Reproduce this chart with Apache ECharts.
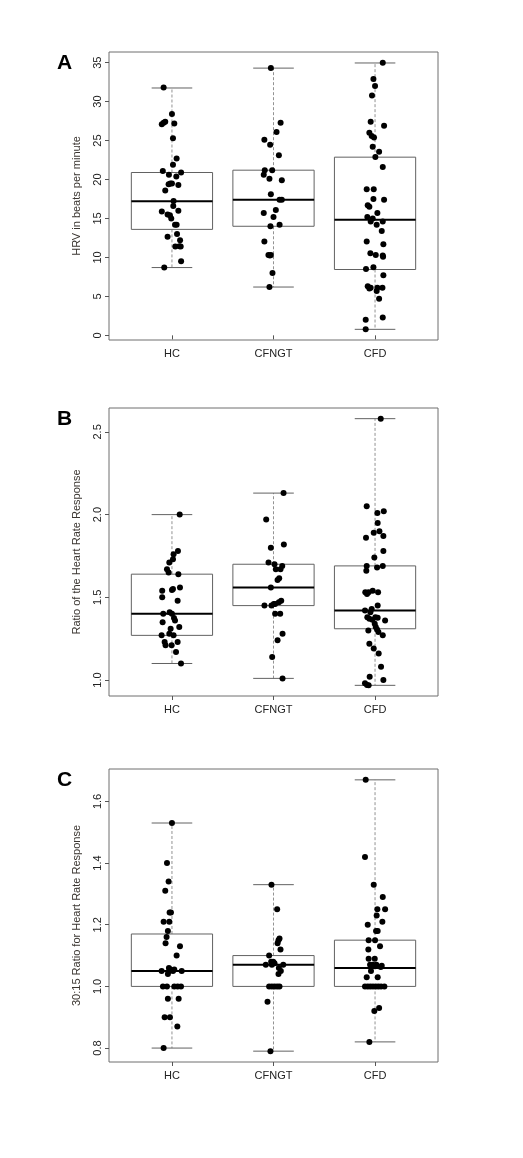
<!DOCTYPE html>
<html>
<head>
<meta charset="utf-8">
<script src="https://cdn.jsdelivr.net/npm/echarts@6/dist/echarts.min.js"></script>
<style>
  html, body { margin: 0; padding: 0; background: #fff; }
  #main { width: 523px; height: 1158px; }
</style>
</head>
<body>
<div id="main"></div>
<script>
// groups on the x axis
var groups = ['HC', 'CFNGT', 'CFD'];

// points: [jitter, value]
// A - HRV in beats per minute
var hrvHC = [[-0.082,31.8],[0,28.4],[-0.1,27.1],[-0.082,27.3],[-0.066,27.4],[0.023,27.2],[0.01,25.3],[0.046,22.7],[0.01,21.9],[-0.09,21.1],[0.09,20.9],[-0.03,20.6],[0.043,20.4],[-0.033,19.4],[-0.016,19.5],[0,19.5],[0.063,19.3],[-0.066,18.6],[0.016,17.25],[0.013,16.6],[0.063,16.0],[-0.1,15.9],[-0.043,15.5],[-0.02,15.4],[-0.007,15.0],[0.03,14.2],[0.046,14.2],[-0.043,12.65],[0.05,13.0],[0.08,12.2],[0.033,11.4],[0.073,11.45],[0.086,11.4],[0.09,9.5],[-0.076,8.7]];
var hrvCFNGT = [[-0.026,34.3],[0.07,27.3],[0.03,26.1],[-0.09,25.1],[-0.033,24.45],[0.053,23.1],[-0.086,21.2],[-0.013,21.2],[-0.096,20.6],[-0.04,20.1],[0.082,19.9],[-0.026,18.1],[0.06,17.4],[0.082,17.4],[0.023,16.1],[-0.096,15.7],[0,15.2],[0.06,14.2],[-0.03,14.0],[-0.09,12.05],[-0.05,10.3],[-0.036,10.25],[-0.026,10.3],[-0.01,8.0],[-0.04,6.2]];
var hrvCFD = [[0.076,35.0],[-0.016,32.9],[0,32.0],[-0.03,30.8],[-0.043,27.4],[0.089,26.9],[-0.056,26.0],[-0.033,25.6],[-0.01,25.4],[-0.023,24.2],[0.04,23.55],[0.003,22.9],[0.076,21.6],[-0.082,18.75],[-0.013,18.75],[-0.016,17.5],[0.089,17.4],[-0.072,16.7],[-0.056,16.5],[0.023,15.7],[-0.076,15.2],[-0.023,15.0],[-0.043,14.6],[0.076,14.6],[0.016,14.2],[0.066,13.4],[-0.082,12.05],[0.082,11.7],[-0.046,10.55],[0.007,10.3],[0.076,10.25],[0.079,10.1],[-0.089,8.5],[-0.016,8.75],[0.082,7.7],[-0.072,6.3],[-0.056,6.0],[-0.043,6.1],[0.023,6.1],[0.016,5.7],[0.073,6.1],[0.04,4.7],[0.076,2.3],[-0.092,2.0],[-0.092,0.77]];

// B - ratio of the heart rate response
var ratioHC = [[0.076,2.00],[0.059,1.78],[0.016,1.76],[0.01,1.73],[-0.026,1.71],[-0.049,1.67],[-0.033,1.65],[0.063,1.64],[0.079,1.56],[-0.096,1.54],[0,1.545],[0.01,1.55],[-0.096,1.50],[0.056,1.48],[-0.086,1.40],[-0.023,1.41],[0,1.40],[0.03,1.36],[0.02,1.375],[-0.092,1.35],[0.072,1.32],[-0.013,1.31],[-0.102,1.27],[-0.026,1.28],[0.016,1.27],[-0.072,1.23],[-0.063,1.21],[0.056,1.23],[-0.003,1.21],[0.04,1.17],[0.089,1.10]];
var ratioCFNGT = [[0.099,2.13],[-0.072,1.97],[0.102,1.82],[-0.026,1.80],[-0.049,1.71],[0.01,1.70],[0.086,1.69],[0.069,1.67],[0.023,1.67],[0.056,1.615],[0.04,1.605],[-0.026,1.56],[0.076,1.48],[0.053,1.47],[-0.089,1.45],[-0.02,1.45],[0.003,1.46],[0.016,1.46],[0.016,1.40],[0.066,1.40],[0.089,1.28],[0.04,1.24],[-0.013,1.14],[0.089,1.01]];
var ratioCFD = [[0.056,2.58],[-0.082,2.05],[0.023,2.01],[0.086,2.02],[0.026,1.95],[0.043,1.90],[-0.013,1.89],[-0.089,1.86],[0.082,1.87],[0.082,1.78],[-0.007,1.74],[-0.082,1.69],[0.02,1.68],[0.076,1.69],[-0.086,1.66],[-0.096,1.53],[-0.079,1.52],[-0.063,1.53],[-0.023,1.54],[0.03,1.53],[0.026,1.45],[-0.099,1.42],[-0.033,1.43],[-0.046,1.41],[-0.076,1.38],[-0.056,1.37],[-0.026,1.365],[0.003,1.38],[0.026,1.377],[0.099,1.36],[-0.066,1.30],[-0.003,1.34],[0.007,1.32],[0.02,1.305],[0.033,1.29],[0.076,1.27],[-0.056,1.22],[-0.013,1.19],[0.036,1.16],[0.059,1.08],[-0.053,1.02],[0.082,1.00],[-0.099,0.98],[-0.079,0.97],[-0.063,0.968]];

// C - 30:15 ratio
var r3015HC = [[0,1.53],[-0.049,1.40],[-0.033,1.34],[-0.066,1.31],[-0.023,1.24],[-0.01,1.24],[-0.082,1.21],[-0.026,1.21],[-0.04,1.18],[-0.053,1.16],[-0.063,1.14],[0.079,1.13],[0.046,1.10],[-0.03,1.06],[-0.026,1.05],[-0.016,1.055],[0.01,1.05],[0.023,1.055],[-0.04,1.04],[-0.102,1.05],[0.096,1.05],[-0.089,1.00],[-0.049,1.00],[0.023,1.00],[0.056,1.00],[0.089,1.00],[-0.04,0.96],[0.066,0.96],[-0.072,0.90],[-0.02,0.90],[0.053,0.87],[-0.082,0.80]];
var r3015CFNGT = [[-0.02,1.33],[0.036,1.25],[0.049,1.15],[0.059,1.155],[0.04,1.14],[0.069,1.12],[-0.043,1.10],[-0.023,1.08],[-0.003,1.08],[-0.076,1.07],[-0.016,1.07],[0.01,1.075],[0.096,1.07],[0.053,1.06],[0.072,1.05],[0.049,1.04],[-0.043,1.00],[-0.016,1.00],[0.01,1.00],[0.036,1.00],[0.059,1.00],[-0.059,0.95],[-0.03,0.79]];
var r3015CFD = [[-0.092,1.67],[-0.099,1.42],[-0.013,1.33],[0.076,1.29],[0.023,1.25],[0.099,1.25],[0.016,1.23],[0.072,1.21],[-0.072,1.20],[0.01,1.18],[0.026,1.18],[-0.063,1.15],[0,1.15],[0.049,1.13],[-0.066,1.12],[-0.063,1.09],[-0.003,1.09],[-0.049,1.07],[-0.023,1.07],[0,1.065],[0.013,1.07],[-0.04,1.05],[0.066,1.067],[0.056,1.063],[-0.082,1.03],[0.026,1.03],[-0.099,1.00],[-0.072,1.00],[-0.046,1.00],[-0.02,1.00],[0.007,1.00],[0.033,1.00],[0.059,1.00],[0.092,1.00],[0.04,0.93],[-0.007,0.92],[-0.056,0.82]];

// box stats: [lower whisker, Q1, median, Q3, upper whisker]
var boxA = [[8.7,13.6,17.2,20.9,31.75],[6.2,14.0,17.4,21.2,34.3],[0.77,8.45,14.84,22.87,34.96]];
var boxB = [[1.10,1.27,1.40,1.64,2.00],[1.01,1.45,1.56,1.70,2.13],[0.968,1.31,1.42,1.69,2.58]];
var boxC = [[0.80,1.00,1.05,1.17,1.53],[0.79,1.00,1.07,1.10,1.33],[0.82,1.00,1.06,1.15,1.67]];

// tick labels
var ticksA = [0, 5, 10, 15, 20, 25, 30, 35];
var ticksB = [1.0, 1.5, 2.0, 2.5];
var ticksC = [0.8, 1.0, 1.2, 1.4, 1.6];

var panels = [
  { letter: 'A', name: 'HRV in beats per minute', pts: [hrvHC, hrvCFNGT, hrvCFD], box: boxA, ticks: ticksA, dec: 0, top: 52, height: 288 },
  { letter: 'B', name: 'Ratio of the Heart Rate Response', pts: [ratioHC, ratioCFNGT, ratioCFD], box: boxB, ticks: ticksB, dec: 1, top: 408, height: 288 },
  { letter: 'C', name: '30:15 Ratio for Heart Rate Response', pts: [r3015HC, r3015CFNGT, r3015CFD], box: boxC, ticks: ticksC, dec: 1, top: 769, height: 293 }
];

var font = 'Liberation Sans, Arial, sans-serif';
var grids = [], xAxes = [], yAxes = [], series = [], graphics = [];

function renderBox(params, api) {
  var x = api.value(0);
  var lo = api.value(1), q1 = api.value(2), md = api.value(3), q3 = api.value(4), hi = api.value(5);
  var c = function (a, b) { return api.coord([a, b]); };
  var tl = c(x - 0.4, q3), br = c(x + 0.4, q1);
  var line = { stroke: '#626262', lineWidth: 1 };
  var dash = { stroke: '#777', lineWidth: 0.8, lineDash: [3, 2] };
  var seg = function (p1, p2, st) {
    return { type: 'line', shape: { x1: p1[0], y1: p1[1], x2: p2[0], y2: p2[1] }, style: st };
  };
  return {
    type: 'group',
    children: [
      seg(c(x, q3), c(x, hi), dash),
      seg(c(x, q1), c(x, lo), dash),
      seg(c(x - 0.2, hi), c(x + 0.2, hi), line),
      seg(c(x - 0.2, lo), c(x + 0.2, lo), line),
      { type: 'rect', shape: { x: tl[0], y: tl[1], width: br[0] - tl[0], height: br[1] - tl[1] },
        style: { fill: 'rgba(255,255,255,0)', stroke: '#626262', lineWidth: 1 } },
      seg(c(x - 0.4, md), c(x + 0.4, md), { stroke: '#000', lineWidth: 2 })
    ]
  };
}

panels.forEach(function (p, i) {
  var all = [];
  p.pts.forEach(function (g) { g.forEach(function (d) { all.push(d[1]); }); });
  var lo = Math.min.apply(null, all), hi = Math.max.apply(null, all);
  var pad = (hi - lo) * 0.04;

  grids.push({ left: 109, top: p.top, width: 329, height: p.height, show: true,
    borderColor: '#6e6e6e', borderWidth: 1, backgroundColor: 'transparent' });

  xAxes.push({
    type: 'value', gridIndex: i, min: 0.38, max: 3.62,
    axisLine: { show: false },
    splitLine: { show: false },
    axisTick: { show: true, inside: false, length: 4, customValues: [1, 2, 3], lineStyle: { color: '#555' } },
    axisLabel: { show: true, customValues: [1, 2, 3], margin: 8, fontSize: 11, color: '#222', fontFamily: font,
      formatter: function (v) { return groups[Math.round(v) - 1]; } }
  });

  yAxes.push({
    type: 'value', gridIndex: i, min: lo - pad, max: hi + pad,
    name: p.name, nameLocation: 'middle', nameRotate: 90, nameGap: 27,
    nameTextStyle: { fontSize: 11, color: '#3a3530', fontFamily: font },
    axisLine: { show: false },
    splitLine: { show: false },
    axisTick: { show: true, inside: false, length: 4, customValues: p.ticks, lineStyle: { color: '#555' } },
    axisLabel: { show: true, customValues: p.ticks, rotate: 90, margin: 6, fontSize: 11, color: '#222', fontFamily: font,
      formatter: (function (d) { return function (v) { return v.toFixed(d); }; })(p.dec) }
  });

  series.push({
    type: 'custom', xAxisIndex: i, yAxisIndex: i, renderItem: renderBox, z: 2,
    data: p.box.map(function (b, k) { return [k + 1].concat(b); }),
    silent: true
  });

  var pts = [];
  p.pts.forEach(function (g, k) { g.forEach(function (d) { pts.push([k + 1 + d[0], d[1]]); }); });
  series.push({
    type: 'scatter', xAxisIndex: i, yAxisIndex: i, data: pts, z: 3,
    symbol: 'circle', symbolSize: 6, itemStyle: { color: '#000', opacity: 1 }, silent: true
  });

  graphics.push({
    type: 'text', left: 57, top: p.top + 1,
    style: { text: p.letter, font: 'bold 21px ' + font, fill: '#000' }
  });
});

var chart = echarts.init(document.getElementById('main'));
chart.setOption({
  animation: false,
  backgroundColor: '#fff',
  grid: grids,
  xAxis: xAxes,
  yAxis: yAxes,
  series: series,
  graphic: graphics
});
</script>
</body>
</html>
